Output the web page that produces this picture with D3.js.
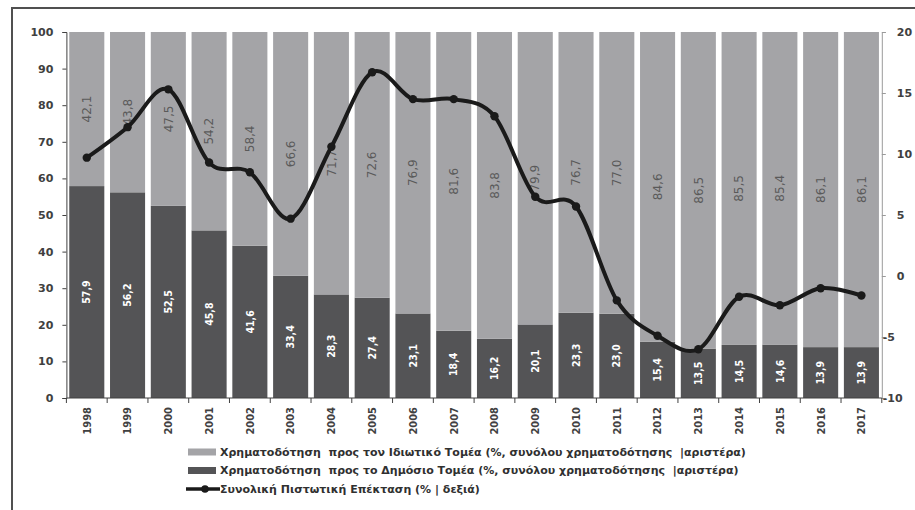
<!DOCTYPE html>
<html>
<head>
<meta charset="utf-8">
<script src="https://cdn.jsdelivr.net/npm/d3@7"></script>
<style>
body { margin: 0; background: #fff; }
</style>
</head>
<body>
<svg id="chart" width="915" height="510"></svg>
<script>
const years = ["1998","1999","2000","2001","2002","2003","2004","2005","2006","2007","2008","2009","2010","2011","2012","2013","2014","2015","2016","2017"];
const privateShare = [42.1,43.8,47.5,54.2,58.4,66.6,71.7,72.6,76.9,81.6,83.8,79.9,76.7,77.0,84.6,86.5,85.5,85.4,86.1,86.1];
const publicShare = [57.9,56.2,52.5,45.8,41.6,33.4,28.3,27.4,23.1,18.4,16.2,20.1,23.3,23.0,15.4,13.5,14.5,14.6,13.9,13.9];
const creditGrowth = [9.7,12.2,15.3,9.3,8.5,4.7,10.6,16.7,14.5,14.5,13.1,6.5,5.7,-2.0,-4.9,-6.0,-1.7,-2.4,-1.0,-1.6];
const leftTicks = [0,10,20,30,40,50,60,70,80,90,100];
const rightTicks = [-10,-5,0,5,10,15,20];
const legendLabels = [
	"Χρηματοδότηση  προς τον Ιδιωτικό Τομέα (%, συνόλου χρηματοδότησης  |αριστέρα)",
	"Χρηματοδότηση  προς το Δημόσιο Τομέα (%, συνόλου χρηματοδότησης  |αριστέρα)",
	"Συνολική Πιστωτική Επέκταση (% | δεξιά)"
];

const lightGrey = "#a4a4a7";
const darkGrey = "#545456";
const font = "'DejaVu Sans', sans-serif";
const fmt = v => v.toFixed(1).replace(".", ",");

const svg = d3.select("#chart");
// frame (only top and left edges fall inside the picture)
svg.append("path").attr("d", "M12,510V8H915").attr("fill", "none").attr("stroke", "#505050").attr("stroke-width", 2);

const x = d3.scaleBand().domain(years).range([66.4, 881.8]).paddingInner(0.14).paddingOuter(0.07);
const y = d3.scaleLinear().domain([0, 100]).range([398, 32]);
const y2 = d3.scaleLinear().domain([-10, 20]).range([398, 32]);

// stacked bars: public share at the bottom, private on top
const rows = years.map((yr, i) => ({ year: yr, pub: publicShare[i], priv: privateShare[i] }));
const bars = svg.append("g");
bars.selectAll("rect.pub").data(rows).enter().append("rect")
	.attr("x", d => x(d.year)).attr("width", x.bandwidth())
	.attr("y", d => y(d.pub)).attr("height", d => y(0) - y(d.pub))
	.attr("fill", darkGrey);
bars.selectAll("rect.priv").data(rows).enter().append("rect")
	.attr("x", d => x(d.year)).attr("width", x.bandwidth())
	.attr("y", d => y(d.pub + d.priv)).attr("height", d => y(d.pub) - y(d.pub + d.priv))
	.attr("fill", lightGrey);

// value labels, rotated
const cx = d => x(d.year) + x.bandwidth() / 2;
bars.selectAll("text.priv").data(rows).enter().append("text")
	.attr("transform", d => `translate(${cx(d)},${(y(d.pub) + y(d.pub + d.priv)) / 2}) rotate(-90)`)
	.attr("text-anchor", "middle").attr("dy", "0.35em")
	.attr("font-family", font).attr("font-size", 12).attr("fill", "#5a5a5a")
	.text(d => fmt(d.priv));
bars.selectAll("text.pub").data(rows).enter().append("text")
	.attr("transform", d => `translate(${cx(d)},${(y(0) + y(d.pub)) / 2}) rotate(-90)`)
	.attr("text-anchor", "middle").attr("dy", "0.35em")
	.attr("font-family", "'DejaVu Sans Condensed', sans-serif").attr("font-weight", "bold")
	.attr("font-size", 10.5).attr("fill", "#fff")
	.text(d => fmt(d.pub));

// left axis
const ax = svg.append("g").attr("transform", `translate(${x.range()[0]},0)`)
	.call(d3.axisLeft(y).tickValues(leftTicks).tickSize(4).tickPadding(9));
ax.selectAll("path, line").attr("stroke", "#404040");
ax.selectAll("text").attr("font-family", font).attr("font-size", 11).attr("font-weight", "bold").attr("fill", "#404040");

// right axis
const ax2 = svg.append("g").attr("transform", `translate(${x.range()[1]},0)`)
	.call(d3.axisRight(y2).tickValues(rightTicks).tickSize(4).tickFormat(d => d < 0 ? "-" + Math.abs(d) : d));
ax2.selectAll("path, line").attr("stroke", "#9a9a9a");
ax2.selectAll("text").attr("font-family", font).attr("font-size", 11).attr("font-weight", "bold").attr("fill", "#404040")
	.attr("x", d => d < 0 ? 1 : 15);

// bottom axis: ticks on band boundaries, rotated year labels
const bx = svg.append("g").attr("transform", `translate(0,${y(0)})`);
bx.append("line").attr("x1", x.range()[0]).attr("x2", x.range()[1]).attr("stroke", "#404040");
bx.selectAll("line.tk").data(d3.range(years.length + 1)).enter().append("line")
	.attr("x1", i => x.range()[0] + i * x.step()).attr("x2", i => x.range()[0] + i * x.step())
	.attr("y1", 0).attr("y2", 5).attr("stroke", "#404040");
bx.selectAll("text").data(years).enter().append("text")
	.attr("transform", d => `translate(${x(d) + x.bandwidth() / 2},9) rotate(-90)`)
	.attr("text-anchor", "end").attr("dy", "0.35em")
	.attr("font-family", "'DejaVu Sans Condensed', sans-serif").attr("font-weight", "bold")
	.attr("font-size", 11).attr("fill", "#404040")
	.text(d => d);

// credit expansion line (right axis)
const line = d3.line().curve(d3.curveCatmullRom.alpha(0)).x((d, i) => x(years[i]) + x.bandwidth() / 2).y(d => y2(d));
const lg = svg.append("g");
lg.append("path").attr("d", line(creditGrowth)).attr("fill", "none").attr("stroke", "#1a1a1a").attr("stroke-width", 4);
lg.selectAll("circle").data(creditGrowth).enter().append("circle")
	.attr("cx", (d, i) => x(years[i]) + x.bandwidth() / 2).attr("cy", d => y2(d)).attr("r", 4.2).attr("fill", "#1a1a1a");

// legend
const legend = svg.append("g").attr("transform", "translate(188,452)");
legendLabels.forEach((t, i) => {
	const g = legend.append("g").attr("transform", `translate(0,${i * 18.5})`);
	if(i < 2)
		g.append("rect").attr("x", 0).attr("y", -3.5).attr("width", 28).attr("height", 7).attr("fill", i == 0 ? lightGrey : darkGrey);
	else {
		g.append("line").attr("x1", -2).attr("x2", 32).attr("stroke", "#1a1a1a").attr("stroke-width", 3.5);
		g.append("circle").attr("cx", 17).attr("r", 3.8).attr("fill", "#1a1a1a");
	}
	g.append("text").attr("x", 32).attr("dy", "0.35em").attr("font-family", font).attr("font-size", 11)
		.attr("font-weight", "bold").attr("fill", "#303030").style("white-space", "pre").text(t);
});
</script>
</body>
</html>
